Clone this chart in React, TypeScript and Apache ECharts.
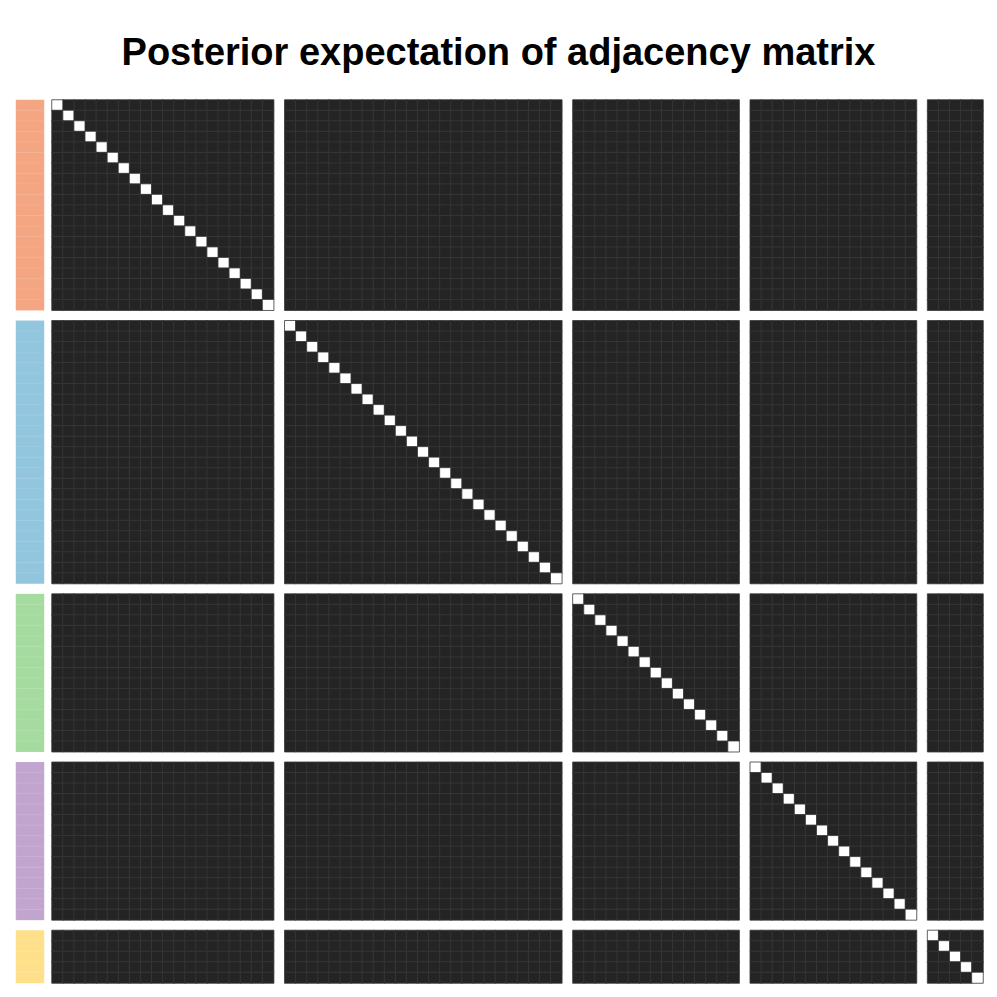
import React, { useEffect, useRef } from "react";
import * as echarts from "echarts";

const titleText = "Posterior expectation of adjacency matrix";
const groupNames = ["1", "2", "3", "4", "5"];
const groupSizes = [20, 25, 15, 15, 5];
const groupColors = ["#F4A582", "#92C5DE", "#A6DBA0", "#C2A5CF", "#FEE08B"];
const diagonalValue = 1;
const offDiagonalValue = 0;

export default function App() {
  const ref = useRef<HTMLDivElement>(null);
  useEffect(() => {
    if (!ref.current) return;
    const chart = echarts.init(ref.current, undefined, { renderer: "svg" });

    // positions of nodes including one empty separator slot between groups
    const nodes: { group: number; pos: number }[] = [];
    let offset = 0;
    groupSizes.forEach((size, g) => {
      for (let i = 0; i < size; i++) nodes.push({ group: g, pos: offset + i });
      offset += size + 1;
    });
    const total = offset - 1;
    const cats = Array.from({ length: total }, (_, i) => String(i));

    const matrixData: number[][] = [];
    nodes.forEach((a, ia) => {
      nodes.forEach((b, ib) => {
        matrixData.push([b.pos, a.pos, ia === ib ? diagonalValue : offDiagonalValue]);
      });
    });
    const barData = nodes.map((n) => [0, n.pos, n.group]);

    chart.setOption({
      animation: false,
      backgroundColor: "#ffffff",
      title: {
        text: titleText,
        left: "center",
        top: 28,
        textStyle: {
          fontFamily: "Liberation Sans, Arial, sans-serif",
          fontWeight: "bold",
          fontSize: 38,
          color: "#000",
        },
      },
      grid: [
        { left: 52, top: 100, width: 931, height: 883 },
        { left: 16, top: 100, width: 28, height: 883 },
      ],
      xAxis: [
        { type: "category", data: cats, gridIndex: 0, show: false },
        { type: "category", data: [groupNames[0]], gridIndex: 1, show: false },
      ],
      yAxis: [
        { type: "category", data: cats, gridIndex: 0, inverse: true, show: false },
        { type: "category", data: cats, gridIndex: 1, inverse: true, show: false },
      ],
      visualMap: [
        {
          type: "continuous",
          seriesIndex: 0,
          min: 0,
          max: 1,
          show: false,
          inRange: { color: ["#242424", "#ffffff"] },
        },
        {
          type: "piecewise",
          seriesIndex: 1,
          show: false,
          pieces: groupColors.map((c, i) => ({ value: i, color: c, label: groupNames[i] })),
        },
      ],
      series: [
        {
          type: "heatmap",
          xAxisIndex: 0,
          yAxisIndex: 0,
          data: matrixData,
          itemStyle: { borderColor: "#383838", borderWidth: 0.8 },
          emphasis: { disabled: true },
        },
        {
          type: "heatmap",
          xAxisIndex: 1,
          yAxisIndex: 1,
          data: barData,
          itemStyle: { borderColor: "rgba(255,255,255,0.2)", borderWidth: 0.5 },
          emphasis: { disabled: true },
        },
      ],
    });
    return () => chart.dispose();
  }, []);
  return <div ref={ref} style={{ width: 997, height: 997, position: "absolute", left: 0, top: 0 }} />;
}
